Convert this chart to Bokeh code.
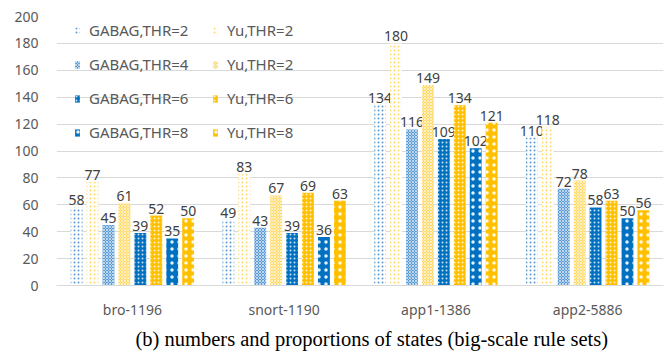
from bokeh.plotting import figure
from bokeh.models import (ColumnDataSource, FactorRange, Range1d, Legend, LegendItem,
                          Title, SingleIntervalTicker)
from bokeh.transform import dodge
from bokeh.core.properties import value
from bokeh.embed import file_html
from bokeh.resources import INLINE

categories = ["bro-1196", "snort-1190", "app1-1386", "app2-5886"]
series_names = ["GABAG,THR=2", "Yu,THR=2", "GABAG,THR=4", "Yu,THR=2",
                "GABAG,THR=6", "Yu,THR=6", "GABAG,THR=8", "Yu,THR=8"]
gabag_thr2 = [58, 49, 134, 110]
yu_thr2 = [77, 83, 180, 118]
gabag_thr4 = [45, 43, 116, 72]
yu_thr4 = [61, 67, 149, 78]
gabag_thr6 = [39, 39, 109, 58]
yu_thr6 = [52, 69, 134, 63]
gabag_thr8 = [35, 36, 102, 50]
yu_thr8 = [50, 63, 121, 56]
series_values = [gabag_thr2, yu_thr2, gabag_thr4, yu_thr4,
                 gabag_thr6, yu_thr6, gabag_thr8, yu_thr8]
y_ticks_step = 20
caption = "(b) numbers and proportions of states (big-scale rule sets)"

BLUE_L = "#5B9BD5"
BLUE_D = "#0070C0"
YEL_L = "#FFD966"
YEL_D = "#FFC000"
styles = [
    dict(fill_color="white", hatch_pattern="dot", hatch_color=BLUE_L, hatch_scale=4, hatch_weight=1),
    dict(fill_color="white", hatch_pattern="dot", hatch_color=YEL_L, hatch_scale=4, hatch_weight=1),
    dict(fill_color=BLUE_L, hatch_pattern="diagonal_cross", hatch_color="white", hatch_scale=3, hatch_weight=1, hatch_alpha=0.6),
    dict(fill_color=YEL_L, hatch_pattern="diagonal_cross", hatch_color="white", hatch_scale=3, hatch_weight=1, hatch_alpha=0.6),
    dict(fill_color=BLUE_D, hatch_pattern="dot", hatch_color="white", hatch_scale=4, hatch_weight=1, hatch_alpha=0.8),
    dict(fill_color=YEL_D, hatch_pattern="dot", hatch_color="white", hatch_scale=4, hatch_weight=1, hatch_alpha=0.8),
    dict(fill_color=BLUE_D, hatch_pattern="dot", hatch_color="white", hatch_scale=7, hatch_weight=0.6, hatch_alpha=0.9),
    dict(fill_color=YEL_D, hatch_pattern="dot", hatch_color="white", hatch_scale=7, hatch_weight=0.6, hatch_alpha=0.9),
]

FONT = "Noto Sans"

p = figure(width=668, height=354, output_backend="svg", toolbar_location=None,
           x_range=FactorRange(*categories, range_padding=0), y_range=Range1d(0, 200),
           min_border_left=56, min_border_right=5, min_border_top=16, min_border_bottom=0)
p.outline_line_color = None
p.background_fill_color = "white"
p.border_fill_color = "white"

pitch = 0.105
bar_w = 0.078
renderers = []
for i, (name, vals, st) in enumerate(zip(series_names, series_values, styles)):
    src = ColumnDataSource(dict(cat=categories, top=vals, lab=[str(v) for v in vals]))
    off = (i - 3.5) * pitch
    r = p.vbar(x=dodge("cat", off, range=p.x_range), top="top", width=bar_w, source=src,
               line_color=None, **st)
    renderers.append(r)
    p.text(x=dodge("cat", off, range=p.x_range), y="top", text="lab", source=src,
           text_align="center", text_baseline="alphabetic", y_offset=-7,
           text_font=value(FONT), text_font_size="14px", text_color="#404040")

# axes
p.yaxis.ticker = SingleIntervalTicker(interval=y_ticks_step)
p.yaxis.axis_line_color = None
p.yaxis.major_tick_line_color = None
p.yaxis.minor_tick_line_color = None
p.yaxis.major_tick_out = 0
p.yaxis.major_label_standoff = 14
p.yaxis.major_label_text_font = FONT
p.yaxis.major_label_text_font_size = "14px"
p.yaxis.major_label_text_color = "#595959"

p.xaxis.axis_line_color = "#D9D9D9"
p.xaxis.major_tick_line_color = None
p.xaxis.minor_tick_line_color = None
p.xaxis.major_tick_out = 0
p.xaxis.major_label_standoff = 14
p.xaxis.major_label_text_font = FONT
p.xaxis.major_label_text_font_size = "14px"
p.xaxis.major_label_text_color = "#595959"

p.xgrid.grid_line_color = None
p.ygrid.grid_line_color = "#D9D9D9"
p.ygrid.grid_line_width = 1

def make_legend(idxs, loc):
    lg = Legend(items=[LegendItem(label=series_names[j], renderers=[renderers[j]]) for j in idxs],
                location=loc, orientation="vertical",
                glyph_width=6, glyph_height=9, label_standoff=9, label_height=20,
                label_width=10, spacing=14, padding=0, margin=0,
                border_line_alpha=0, background_fill_alpha=0,
                label_text_font=FONT, label_text_font_size="15px",
                label_text_color="#595959")
    return lg

p.add_layout(make_legend([0, 2, 4, 6], (18, 143)))
p.add_layout(make_legend([1, 3, 5, 7], (156, 143)))

p.add_layout(Title(text=caption, align="left", offset=79, standoff=9,
                   text_font="Liberation Serif", text_font_size="20.5px",
                   text_font_style="normal", text_color="black"), "below")

open("out.html", "w").write(file_html(p, INLINE))
